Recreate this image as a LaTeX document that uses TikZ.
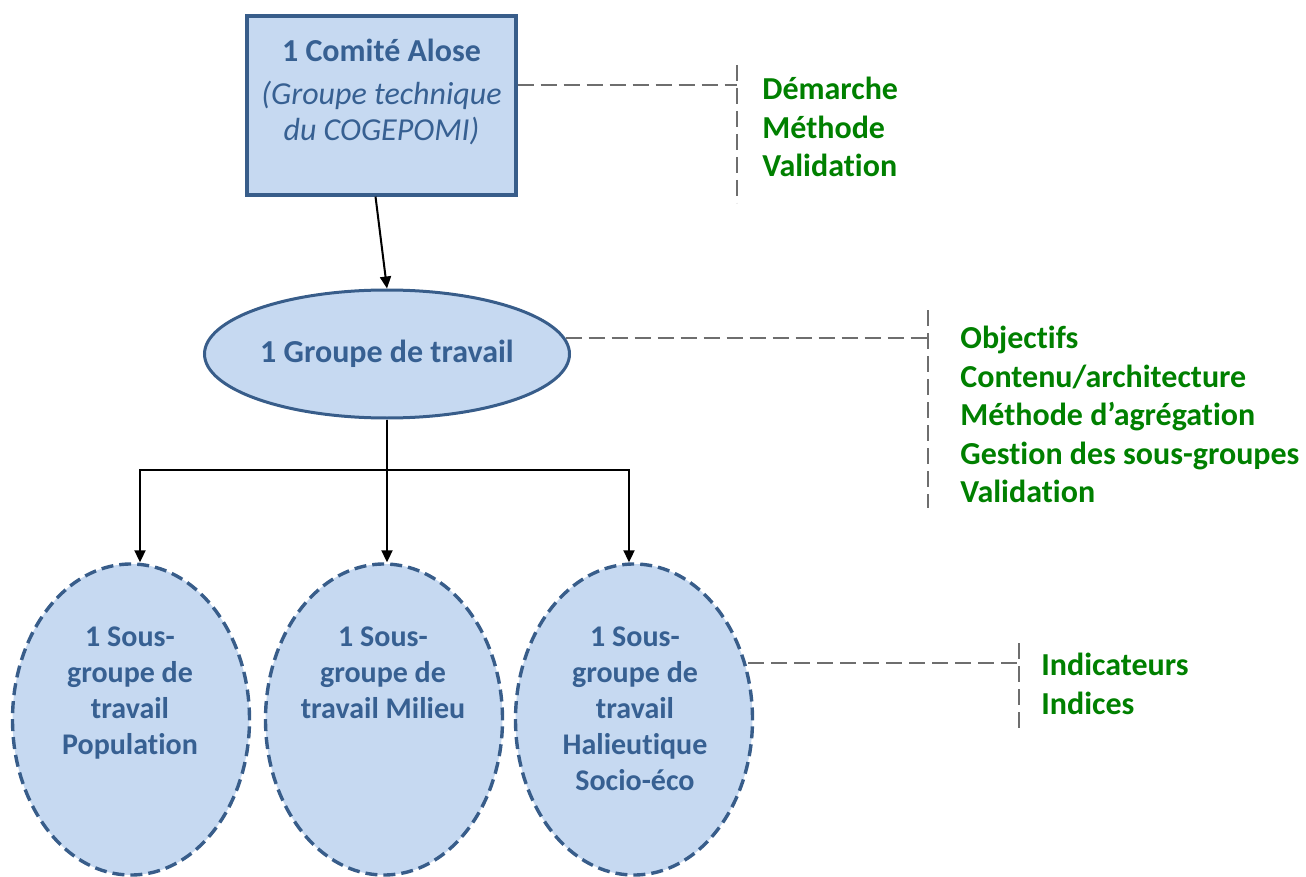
\documentclass[tikz,border=0pt]{standalone}
\usepackage{fontspec}
\setmainfont{Carlito}[Ligatures=NoCommon]
\usetikzlibrary{shapes.geometric,arrows.meta}
\definecolor{boxfill}{RGB}{198,217,241}
\definecolor{boxline}{RGB}{56,93,138}
\definecolor{boxtext}{RGB}{55,96,146}
\definecolor{notegreen}{RGB}{0,128,0}
\definecolor{guide}{RGB}{110,110,110}
\tikzset{
  blockfont/.style={font=\fontsize{15}{18}\selectfont\bfseries, text=boxtext},
  bigfont/.style={font=\fontsize{16}{18}\selectfont\bfseries, text=boxtext},
  blocktext/.style={blockfont, align=center, anchor=north, inner sep=0pt},
  topbox/.style={draw=boxline, fill=boxfill, line width=1.6pt,
    minimum width=134.5pt, minimum height=89.5pt, inner sep=0pt},
  mainellipse/.style={ellipse, draw=boxline, fill=boxfill, line width=1.5pt,
    minimum width=182.5pt, minimum height=64pt, inner sep=0pt},
  subellipse/.style={ellipse, draw=boxline, fill=boxfill, line width=1.7pt,
    dash pattern=on 6pt off 3pt, minimum width=118.5pt, minimum height=155.5pt, inner sep=0pt},
  flow/.style={line width=1pt, -{Triangle[length=6pt,width=5.5pt]}},
  trunk/.style={line width=1pt},
  guideline/.style={draw=guide, line width=1pt, dash pattern=on 8pt off 3.5pt},
  notes/.style={font=\fontsize{16}{19.2}\selectfont\bfseries, text=notegreen,
    align=left, anchor=north west, inner sep=0pt},
}
\begin{document}
\begin{tikzpicture}[x=0.5pt,y=-0.5pt]
\useasboundingbox (0,0) rectangle (1306,877);

% --- committee box
\node[topbox] (comite) at (381.5,105.5) {};
\node[bigfont, align=center, anchor=north, inner sep=0pt] (comitetxt) at (381.5,39)
  {1 Comité Alose\\[3.5pt]{\normalfont\itshape (Groupe technique}\\{\normalfont\itshape du COGEPOMI)}};

% --- working group
\node[mainellipse, bigfont] (groupe) at (387,354) {1 Groupe de travail};

% --- sub-groups
\node[subellipse] (sgpop) at (131,719.5) {};
\node[subellipse] (sgmil) at (384,719.5) {};
\node[subellipse] (sghal) at (634,719.5) {};
\node[blocktext] (sgpoptxt) at (130,626) {1 Sous-\\groupe de\\travail\\Population};
\node[blocktext] (sgmiltxt) at (383,626) {1 Sous-\\groupe de\\travail Milieu};
\node[blocktext] (sghaltxt) at (635,626) {1 Sous-\\groupe de\\travail\\Halieutique\\Socio-éco};

% --- hierarchy arrows
\draw[flow] ([xshift=-3pt]comite.south) -- (groupe.north);
\coordinate (bus) at (387,470);
\draw[trunk] (groupe.south) -- (bus);
\draw[flow] (bus) -| ([xshift=4.5pt]sgpop.north);
\draw[flow] (bus) -- ([xshift=1.5pt]sgmil.north);
\draw[flow] (bus) -| ([xshift=-2.5pt]sghal.north);

% --- bracket guides
\coordinate (br1) at (737,85);
\coordinate (br1top) at (737,65);
\coordinate (br1bot) at (737,203);
\draw[guideline] (br1 -| comite.east) -- (br1);
\draw[guideline] (br1top) -- (br1bot);

\coordinate (br2) at (928,340);
\coordinate (br2top) at (928,310);
\coordinate (br2bot) at (928,508);
\draw[guideline] (groupe.5) -- (groupe.5 -| br2);
\draw[guideline] (br2top) -- (br2bot);

\coordinate (br3) at (1019,663);
\coordinate (br3top) at (1019,643);
\coordinate (br3bot) at (1019,731);
\draw[guideline] ([xshift=-3pt]br3 -| sghal.east) -- (br3);
\draw[guideline] (br3top) -- (br3bot);

% --- notes
\node[notes] (n1) at (762,77) {Démarche\\Méthode\\Validation};
\node[notes] (n2) at (960,326) {Objectifs\\Contenu/architecture\\Méthode d’agrégation\\Gestion des sous-groupes\\Validation};
\node[notes] (n3) at (1041,653) {Indicateurs\\Indices};
\end{tikzpicture}
\end{document}
